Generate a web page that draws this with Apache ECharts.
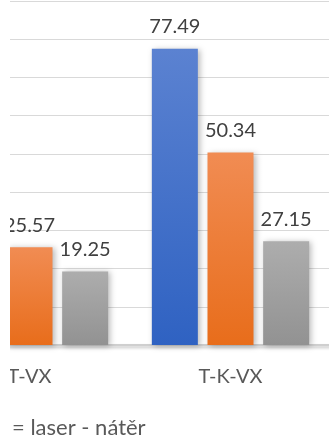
<!DOCTYPE html>
<html>
<head>
<meta charset="utf-8">
<script src="https://cdn.jsdelivr.net/npm/echarts@6/dist/echarts.min.js"></script>
<style>
  html, body { margin: 0; padding: 0; background: #fff; overflow: hidden; }
  #wrap { position: relative; width: 329px; height: 443px; overflow: hidden; }
  #chart { position: absolute; left: -100px; top: 0; width: 440px; height: 443px; }
</style>
</head>
<body>
<div id="wrap"><div id="chart"></div></div>
<script>
// Surface treatment results per sample
const categories = ['T-VX', 'T-K-VX'];
const seriesA = [null, 77.49];
const seriesB = [25.57, 50.34];
const seriesC = [19.25, 27.15];
const yTicks = { min: 0, max: 90, step: 10 };
const caption = '= laser - nátěr';

const FONT = 'Lato';

function grad(top, bottom) {
  return new echarts.graphic.LinearGradient(0, 0, 0, 1, [
    { offset: 0, color: top },
    { offset: 1, color: bottom }
  ]);
}

function barSeries(name, data, top, bottom) {
  return {
    name: name,
    type: 'bar',
    data: data,
    barWidth: 46,
    barGap: '21%',
    itemStyle: {
      color: grad(top, bottom),
      shadowColor: 'rgba(0,0,0,0.28)',
      shadowBlur: 6,
      shadowOffsetX: 2,
      shadowOffsetY: 1
    },
    label: {
      show: true,
      position: 'top',
      distance: 12,
      fontFamily: FONT,
      fontSize: 20,
      color: '#404040',
      formatter: p => p.value.toFixed(2)
    }
  };
}

const chart = echarts.init(document.getElementById('chart'), null, { renderer: 'canvas' });
chart.setOption({
  animation: false,
  backgroundColor: '#fff',
  grid: { left: 29, right: 9, top: 1, bottom: 98, containLabel: false },
  xAxis: {
    type: 'category',
    data: categories,
    axisTick: { show: false },
    axisLine: {
      lineStyle: {
        color: '#cfcfcf',
        width: 2,
        shadowColor: 'rgba(0,0,0,0.25)',
        shadowBlur: 3,
        shadowOffsetY: 2
      }
    },
    axisLabel: {
      margin: 22,
      fontFamily: FONT,
      fontSize: 20,
      color: '#595959'
    }
  },
  yAxis: {
    type: 'value',
    min: yTicks.min,
    max: yTicks.max,
    interval: yTicks.step,
    axisLabel: { show: false },
    axisLine: { show: false },
    axisTick: { show: false },
    splitLine: { lineStyle: { color: '#d9d9d9', width: 1 } }
  },
  series: [
    barSeries('A', seriesA, '#5b82d1', '#2f62c2'),
    barSeries('B', seriesB, '#f18c53', '#e86d1b'),
    barSeries('C', seriesC, '#adadad', '#929292')
  ],
  graphic: [
    {
      type: 'rect',
      z: 100,
      shape: { x: 0, y: 0, width: 110, height: 400 },
      style: { fill: '#fff' }
    },
    {
      type: 'text',
      z: 101,
      left: 112,
      top: 417,
      style: {
        text: caption,
        fontFamily: FONT,
        fontSize: 22,
        fill: '#595959'
      }
    }
  ]
});
</script>
</body>
</html>
